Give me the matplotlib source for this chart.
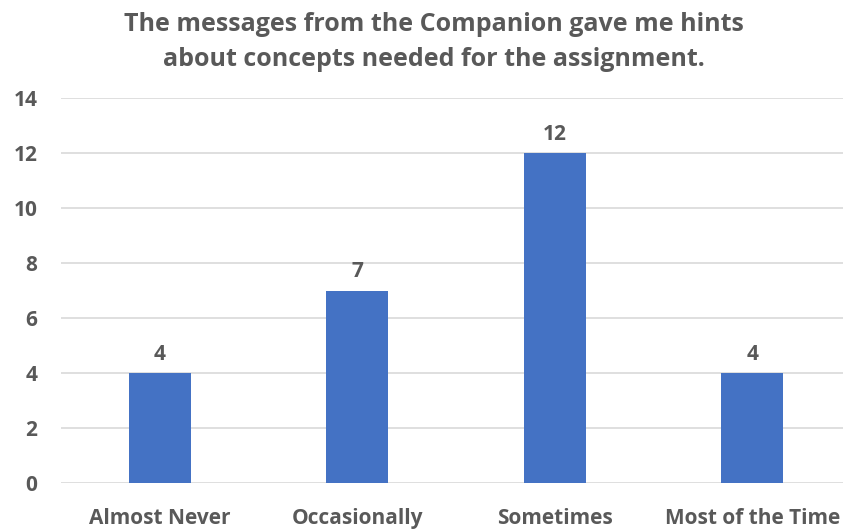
import matplotlib
matplotlib.use("Agg")
import matplotlib.pyplot as plt

# Survey responses
categories = ["Almost Never", "Occasionally", "Sometimes", "Most of the Time"]
counts = [4, 7, 12, 4]
yticks = [0, 2, 4, 6, 8, 10, 12, 14]

title = ("The messages from the Companion gave me hints\n"
         "about concepts needed for the assignment.")

text_color = "#595959"
bar_color = "#4472C4"
grid_color = "#D9D9D9"

plt.rcParams["font.family"] = ["Open Sans", "DejaVu Sans"]

fig = plt.figure(figsize=(8.43, 5.31), dpi=100)
ax = fig.add_axes([61 / 843, 48 / 531, 790 / 843, 385 / 531])

x = range(len(categories))
bars = ax.bar(x, counts, width=0.315, color=bar_color, zorder=3)

for rect, val in zip(bars, counts):
    ax.text(rect.get_x() + rect.get_width() / 2, val + 0.3, str(val),
            ha="center", va="bottom", fontsize=15, fontweight="bold",
            color=text_color)

ax.set_xlim(-0.5, len(categories) - 0.5)
ax.set_ylim(0, 14)
ax.set_yticks(yticks)
ax.set_xticks(list(x))
ax.set_xticklabels(categories)

ax.grid(axis="y", color=grid_color, linewidth=1.2, zorder=0)
for side in ax.spines.values():
    side.set_visible(False)
ax.tick_params(length=0, labelsize=15, labelcolor=text_color)
ax.tick_params(axis="y", pad=17)
ax.tick_params(axis="x", pad=18)
for lbl in ax.get_xticklabels() + ax.get_yticklabels():
    lbl.set_fontweight("bold")

fig.text(0.515, 0.978, title, ha="center", va="top", fontsize=18,
         fontweight="bold", color=text_color, linespacing=1.55)

fig.savefig("out.png", dpi=100)
